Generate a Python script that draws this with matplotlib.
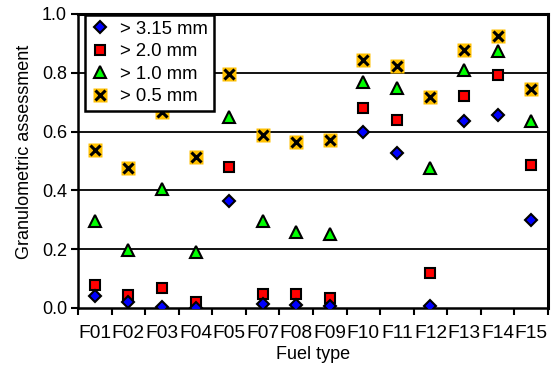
import matplotlib
matplotlib.use("Agg")
import matplotlib.pyplot as plt
from matplotlib.lines import Line2D
import numpy as np

plt.rcParams['font.family'] = ['Liberation Sans', 'DejaVu Sans']

categories = ["F01", "F02", "F03", "F04", "F05", "F07", "F08", "F09",
              "F10", "F11", "F12", "F13", "F14", "F15"]
s315 = [0.042, 0.022, 0.002, 0.0, 0.365, 0.013, 0.009, 0.006,
        0.597, 0.527, 0.008, 0.637, 0.656, 0.299]
s20 = [0.078, 0.044, 0.069, 0.019, 0.481, 0.046, 0.046, 0.033,
       0.679, 0.639, 0.120, 0.721, 0.793, 0.486]
s10 = [0.296, 0.196, 0.405, 0.190, 0.650, 0.296, 0.257, 0.253,
       0.770, 0.747, 0.475, 0.810, 0.873, 0.637]
s05 = [0.539, 0.476, 0.665, 0.514, 0.795, 0.590, 0.564, 0.570,
       0.843, 0.822, 0.719, 0.878, 0.926, 0.745]
labels = ["> 3.15 mm", "> 2.0 mm", "> 1.0 mm", "> 0.5 mm"]
yticks = [0.0, 0.2, 0.4, 0.6, 0.8, 1.0]

W, H = 553, 365
fig = plt.figure(figsize=(W / 100, H / 100), dpi=100)
ax = fig.add_axes([78 / W, 1 - 308 / H, 470 / W, 294 / H])

x = np.arange(len(categories))

for yv in [0.2, 0.4, 0.6, 0.8]:
    ax.axhline(yv, color='black', lw=1.3, zorder=1)

kw = dict(ls='none', mec='black', mew=1.5, zorder=3)
ax.plot(x, s05, marker='s', ms=9.5, mfc='#FFC000', mec='none', ls='none', zorder=3)
ax.plot(x, s05, marker='x', ms=7, mec='black', mew=2.2, ls='none', zorder=4)
ax.plot(x, s10, marker='^', ms=8.5, mfc='#00FF00', **kw)
ax.plot(x, s20, marker='s', ms=6.5, mfc='#FF0000', **kw)
ax.plot(x, s315, marker='D', ms=6.5, mfc='#0000FF', **kw)

ax.set_xlim(-0.5, len(categories) - 0.5)
ax.set_ylim(0, 1.0)
ax.set_yticks(yticks)
ax.set_yticklabels([f"{v:.1f}" for v in yticks])
ax.set_xticks(x)
ax.set_xticklabels(categories)
ax.set_xticks(np.arange(len(categories) + 1) - 0.5, minor=True)
ax.tick_params(axis='x', which='major', length=0, pad=12, labelsize=13.8)
ax.tick_params(axis='x', which='minor', length=5, width=1.5, direction='out')
ax.tick_params(axis='y', length=5, width=1.5, direction='out', labelsize=13, pad=3)

for side in ['left', 'bottom']:
    ax.spines[side].set_linewidth(1.8)
for side in ['top', 'right']:
    ax.spines[side].set_linewidth(2.2)

ax.set_xlabel("Fuel type", fontsize=13, labelpad=3)
ax.set_ylabel("Granulometric assessment", fontsize=13, labelpad=6)
ax.yaxis.label.set_y(0.53)

h1 = Line2D([], [], marker='D', ms=6.5, mfc='#0000FF', mec='black', mew=1.5, ls='none')
h2 = Line2D([], [], marker='s', ms=6.5, mfc='#FF0000', mec='black', mew=1.5, ls='none')
h3 = Line2D([], [], marker='^', ms=8.5, mfc='#00FF00', mec='black', mew=1.5, ls='none')
h4a = Line2D([], [], marker='s', ms=9.5, mfc='#FFC000', mec='none', ls='none')
h4b = Line2D([], [], marker='x', ms=7, mec='black', mew=2.2, ls='none')
leg = ax.legend([h1, h2, h3, (h4a, h4b)], labels, loc='upper left',
                bbox_to_anchor=(85 / W, 1 - 15 / H), bbox_transform=fig.transFigure,
                fontsize=13.3, handlelength=1.0, handletextpad=0.6, labelspacing=0.3,
                borderpad=0.3, borderaxespad=0, fancybox=False, framealpha=1,
                edgecolor='black', numpoints=1)
leg.get_frame().set_linewidth(1.8)
leg.set_zorder(5)

fig.savefig("out.png", dpi=100)
